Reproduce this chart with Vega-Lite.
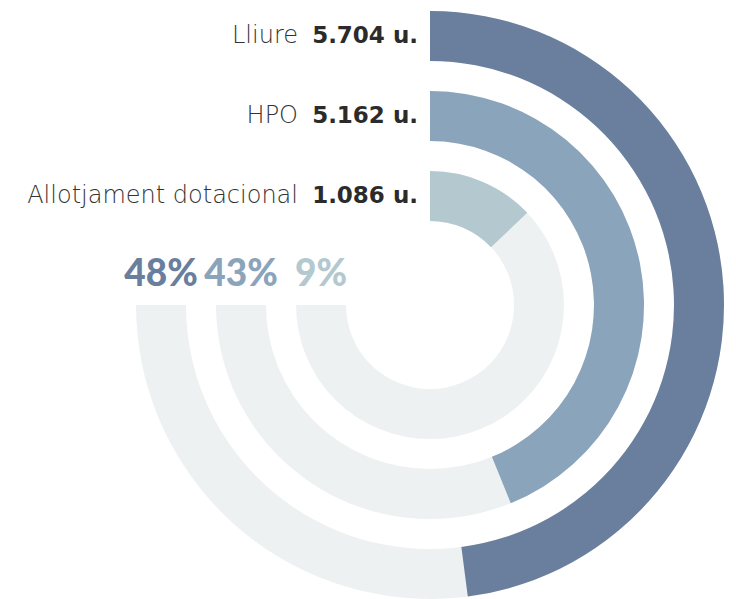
{
  "$schema": "https://vega.github.io/schema/vega-lite/v6.json",
  "width": 612,
  "height": 590,
  "autosize": "none",
  "padding": {"left": 124, "top": 10, "right": 0, "bottom": 0},
  "background": "white",
  "view": {"stroke": null},
  "config": {"font": "Lato"},
  "data": {
    "values": [
      {"name": "Lliure", "units": 5704, "label": "5.704 u.", "pct": "48%", "ring": 3},
      {"name": "HPO", "units": 5162, "label": "5.162 u.", "pct": "43%", "ring": 2},
      {"name": "Allotjament dotacional", "units": 1086, "label": "1.086 u.", "pct": "9%", "ring": 1}
    ]
  },
  "encoding": {
    "radius": {"field": "ring", "type": "quantitative", "scale": {"type": "linear", "zero": false, "domain": [1, 3], "range": [134, 294]}}
  },
  "layer": [
    {
      "mark": {"type": "arc", "radius2Offset": -50, "color": "#eef1f2"},
      "encoding": {
        "theta": {"datum": 9271, "type": "quantitative", "stack": null, "scale": {"type": "linear", "zero": false, "domain": [-619, 12568], "range": [0, 6.283185307]}},
        "theta2": {"datum": -619},
        "radius2": {"field": "ring"}
      }
    },
    {
      "mark": {"type": "arc", "radius2Offset": -50},
      "encoding": {
        "theta": {"field": "units", "type": "quantitative", "stack": null, "scale": {"type": "linear", "zero": false, "domain": [-619, 12568], "range": [0, 6.283185307]}},
        "theta2": {"datum": -619},
        "radius2": {"field": "ring"},
        "color": {"field": "name", "type": "nominal", "legend": null, "scale": {"domain": ["Lliure", "HPO", "Allotjament dotacional"], "range": ["#697f9d", "#8aa4bb", "#b4c8cf"]}}
      }
    },
    {
      "mark": {"type": "text", "radiusOffset": -25, "dx": -12, "align": "right", "baseline": "middle", "fontSize": 23, "fontWeight": "bold", "color": "#2b2b2b", "font": "DejaVu Sans"},
      "encoding": {
        "theta": {"datum": -619, "type": "quantitative", "scale": {"type": "linear", "zero": false, "domain": [-619, 12568], "range": [0, 6.283185307]}},
        "text": {"field": "label"}
      }
    },
    {
      "mark": {"type": "text", "radiusOffset": -25, "dx": -132, "align": "right", "baseline": "middle", "fontSize": 24, "fontWeight": 200, "color": "#333333", "font": "DejaVu Sans"},
      "encoding": {
        "theta": {"datum": -619, "type": "quantitative", "scale": {"type": "linear", "zero": false, "domain": [-619, 12568], "range": [0, 6.283185307]}},
        "text": {"field": "name"}
      }
    },
    {
      "mark": {"type": "text", "radiusOffset": -25, "dy": -30, "align": "center", "baseline": "middle", "fontSize": 37, "fontWeight": 900},
      "encoding": {
        "theta": {"datum": 9271, "type": "quantitative", "scale": {"type": "linear", "zero": false, "domain": [-619, 12568], "range": [0, 6.283185307]}},
        "text": {"field": "pct"},
        "color": {"field": "name", "type": "nominal", "legend": null, "scale": {"domain": ["Lliure", "HPO", "Allotjament dotacional"], "range": ["#697f9d", "#8aa4bb", "#b4c8cf"]}}
      }
    }
  ]
}
